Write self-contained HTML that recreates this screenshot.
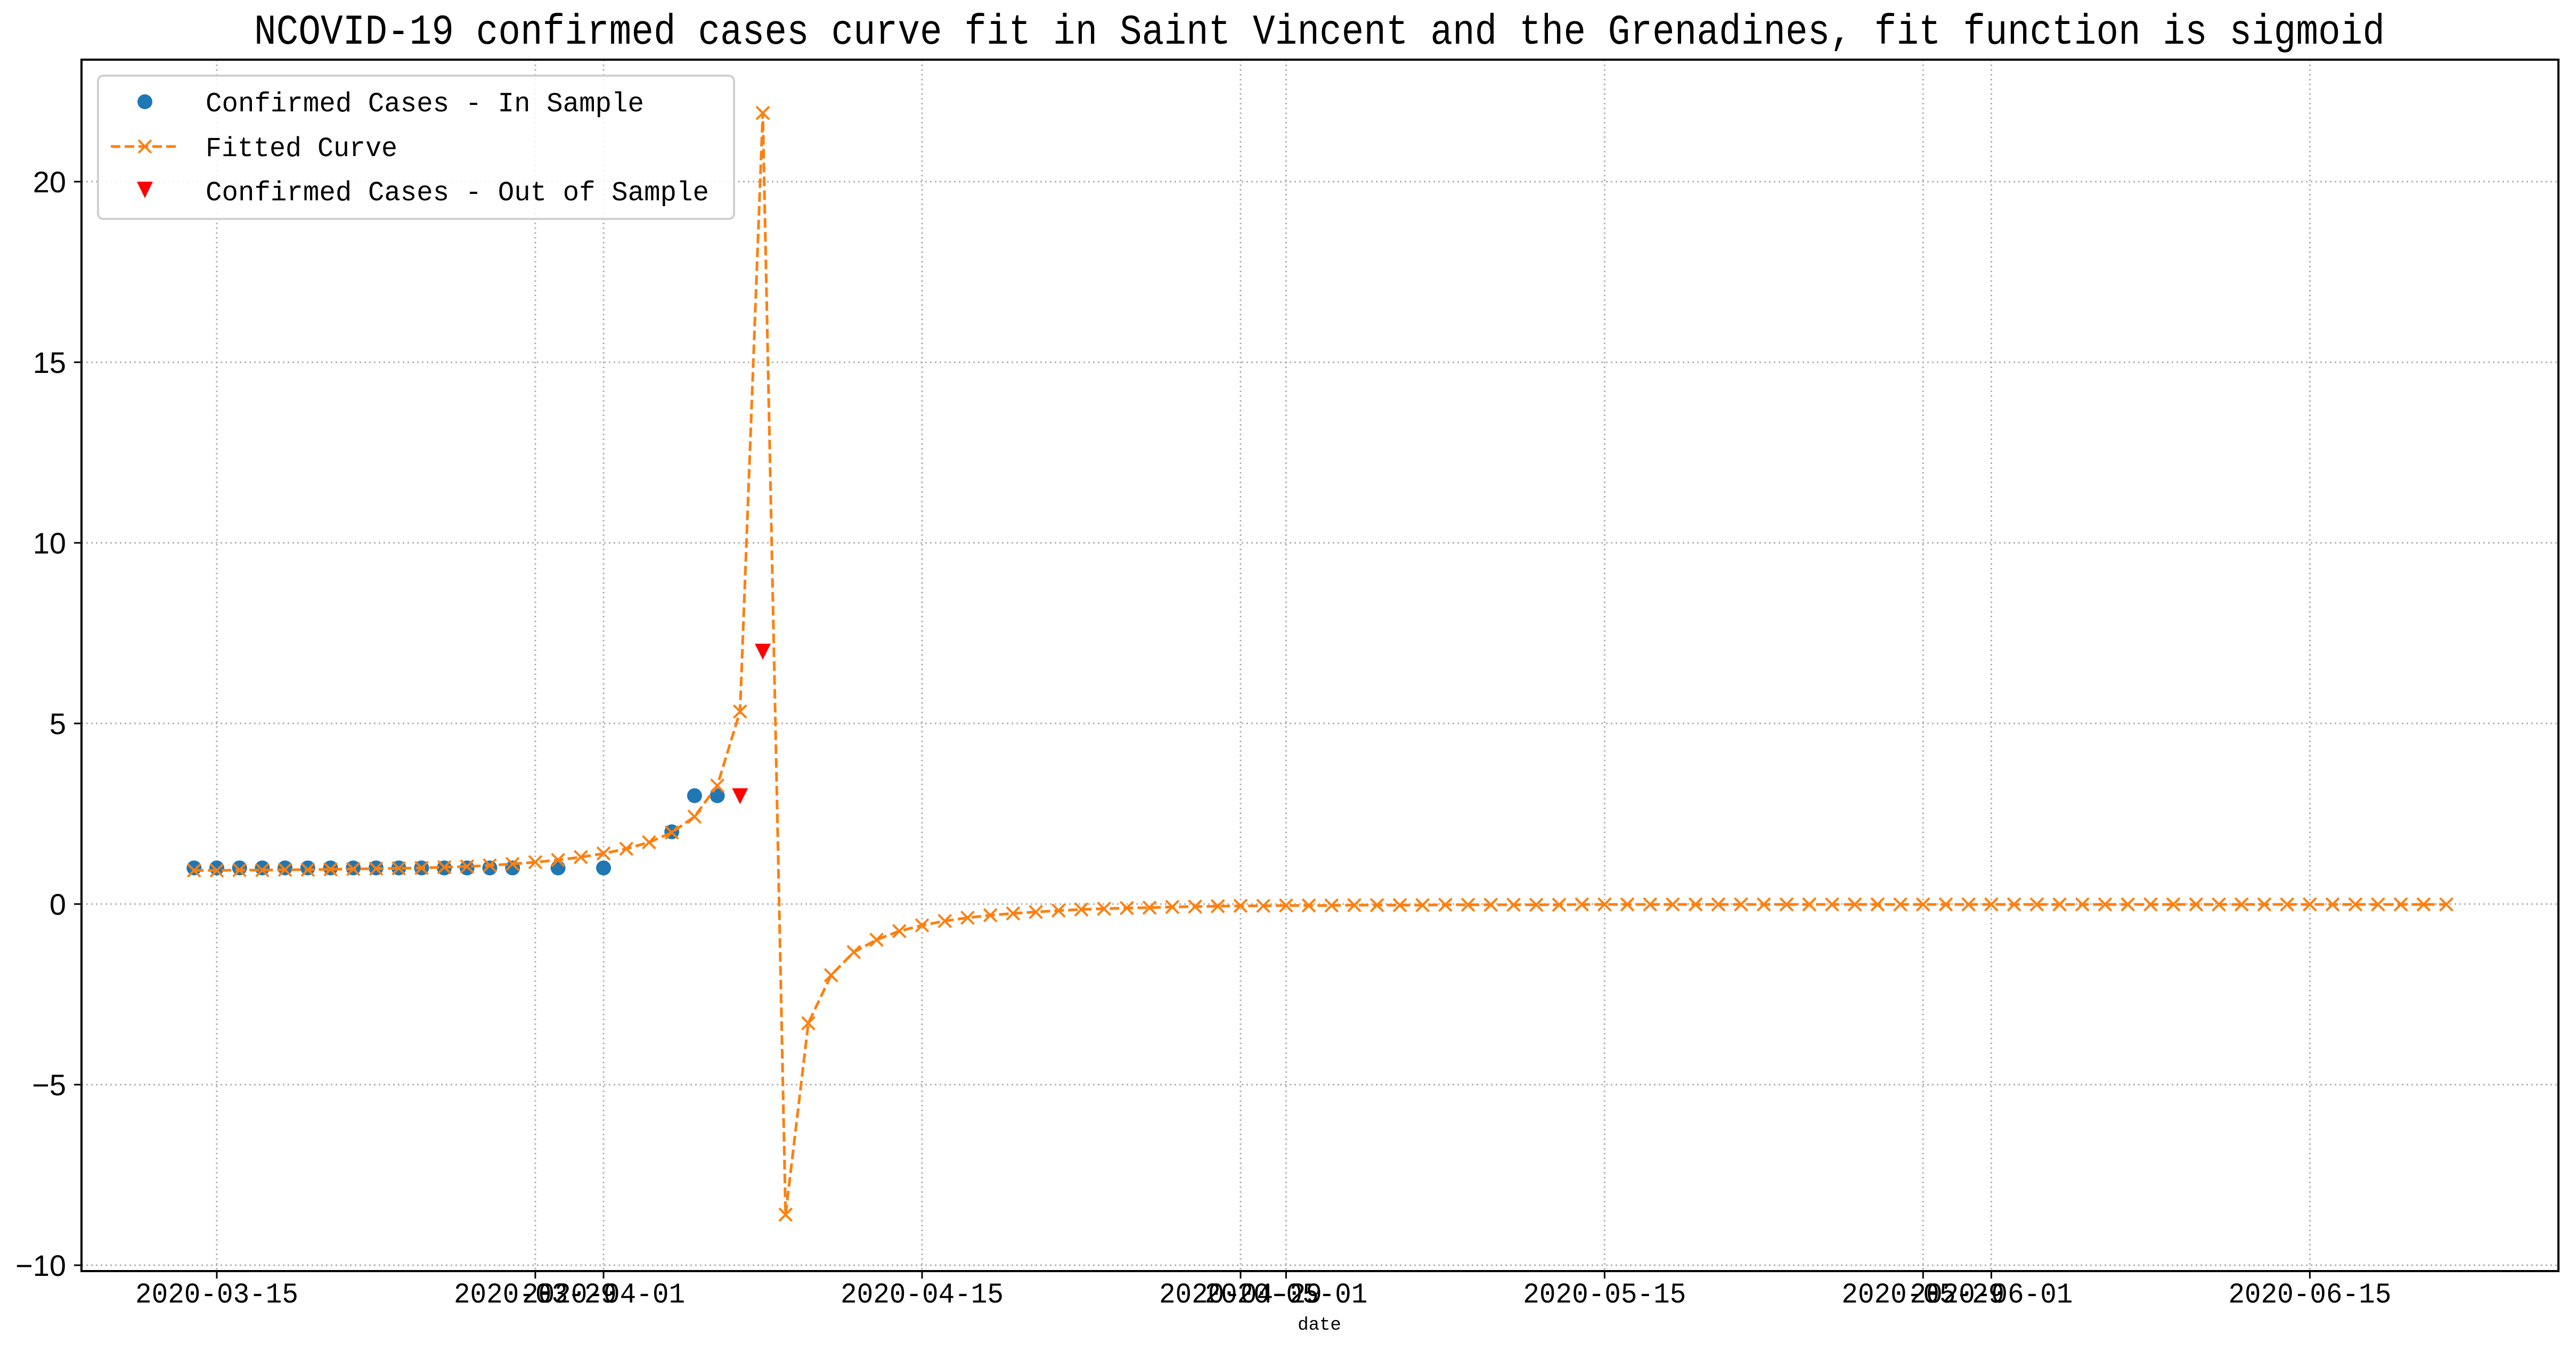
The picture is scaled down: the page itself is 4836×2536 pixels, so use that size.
<!DOCTYPE html>
<html><head><meta charset="utf-8"><style>
html,body{margin:0;padding:0;background:#fff}
svg{display:block}
text{font-family:"Liberation Mono","Noto Sans CJK SC",monospace;fill:#000}
</style></head><body>
<svg id="chart" width="4836" height="2536" viewBox="0 0 4836 2536" xmlns="http://www.w3.org/2000/svg">
<rect x="0" y="0" width="4836" height="2536" fill="#fff"/>
<text x="2477" y="82" font-size="80" text-anchor="middle" textLength="4000" lengthAdjust="spacingAndGlyphs">NCOVID-19 confirmed cases curve fit in Saint Vincent and the Grenadines, fit function is sigmoid</text>
<g id="grid"></g>
<g id="series"></g>
<rect x="153" y="112" width="4650" height="2274" fill="none" stroke="#000" stroke-width="4"/>
<g id="axes"></g>
<text x="2477" y="2496" font-size="34" text-anchor="middle">date</text>
<g>
<rect x="184" y="142" width="1194" height="269" rx="10" fill="#fff" fill-opacity="0.85" stroke="#d0d0d0" stroke-width="4"/>
<g>
<circle cx="272" cy="191" r="14" fill="#1f77b4"/>
<text x="386" y="209" font-size="52" textLength="823" lengthAdjust="spacingAndGlyphs">Confirmed Cases - In Sample</text>
</g>
<g>
<line x1="208" y1="275" x2="336" y2="275" stroke="#ff7f0e" stroke-width="5" stroke-dasharray="18,8"/>
<path d="M260 263 L284 287 M260 287 L284 263" stroke="#ff7f0e" stroke-width="4"/>
<text x="386" y="293" font-size="52" textLength="360" lengthAdjust="spacingAndGlyphs">Fitted Curve</text>
</g>
<g>
<path d="M257 341 L287 341 L272 372 Z" fill="#ff0000"/>
<text x="386" y="376" font-size="52" textLength="945" lengthAdjust="spacingAndGlyphs">Confirmed Cases - Out of Sample</text>
</g>
</g>
</svg>
<script>
// day offsets relative to 2020-03-15
const inSampleDays = [-1,0,1,2,3,4,5,6,7,8,9,10,11,12,13,15,17,20,21,22];
const inSampleValues = [1,1,1,1,1,1,1,1,1,1,1,1,1,1,1,1,1,2,3,3];
const outSampleDays = [23,24];
const outSampleValues = [3,7];
const fitStartDay = -1;
const fitValues = [0.93,0.93,0.94,0.94,0.95,0.95,0.96,0.97,0.98,0.99,1.0,1.02,1.04,1.07,1.11,1.16,1.22,1.30,1.40,1.53,1.71,1.98,2.42,3.28,5.33,21.9,-8.6,-3.3,-1.97,-1.33,-0.99,-0.75,-0.59,-0.47,-0.38,-0.31,-0.26,-0.22,-0.18,-0.15,-0.13,-0.11,-0.10,-0.08,-0.07,-0.06,-0.05,-0.05,-0.04,-0.04,-0.04,-0.03,-0.03,-0.03,-0.03,-0.02,-0.02,-0.02,-0.02,-0.02,-0.02,-0.01,-0.01,-0.01,-0.01,-0.01,-0.01,-0.01,-0.01,-0.01,-0.01,-0.01,-0.01,-0.01,-0.01,-0.01,-0.01,-0.01,-0.01,-0.01,-0.01,-0.01,-0.01,-0.01,-0.01,-0.01,-0.01,-0.01,-0.01,-0.01,-0.01,-0.01,-0.01,-0.01,-0.01,-0.01,-0.01,-0.01,-0.01,-0.01];
const xTickDays = [0,14,17,31,45,47,61,75,78,92];
const xTickLabels = ["2020-03-15","2020-03-29","2020-04-01","2020-04-15","2020-04-29","2020-05-01","2020-05-15","2020-05-29","2020-06-01","2020-06-15"];
const yTickValues = [-10,-5,0,5,10,15,20];
const yTickLabels = ["\u221210","\u22125","0","5","10","15","20"];

const NS = "http://www.w3.org/2000/svg";
const X0 = 407, PX_PER_DAY = 42.71, Y0 = 1697, PX_PER_UNIT = 67.8;
const PL = 153, PR = 4803, PT = 112, PB = 2386;
function xs(d){ return X0 + d * PX_PER_DAY; }
function ys(v){ return Y0 - v * PX_PER_UNIT; }
function mk(tag, attrs, parent){
  const e = document.createElementNS(NS, tag);
  for (const k in attrs) e.setAttribute(k, attrs[k]);
  parent.appendChild(e);
  return e;
}
const grid = document.getElementById('grid');
const axes = document.getElementById('axes');
const series = document.getElementById('series');

xTickDays.forEach((d, i) => {
  const x = xs(d);
  const g = mk('line', {x1:x, y1:PT, x2:x, y2:PB, stroke:'#b0b0b0', 'stroke-width':3, 'stroke-dasharray':'3,6'}, grid);
  
  
  const t = mk('line', {x1:x, y1:PB, x2:x, y2:PB+14, stroke:'#000', 'stroke-width':3}, axes);
  
  
  const lb = mk('text', {x:x, y:2445, 'font-size':54, 'text-anchor':'middle', textLength:306, lengthAdjust:'spacingAndGlyphs'}, axes);
  lb.textContent = xTickLabels[i];
  
  
});
yTickValues.forEach((v, i) => {
  const y = ys(v);
  const g = mk('line', {x1:PL, y1:y, x2:PR, y2:y, stroke:'#b0b0b0', 'stroke-width':3, 'stroke-dasharray':'3,6'}, grid);
  
  
  const t = mk('line', {x1:PL-14, y1:y, x2:PL, y2:y, stroke:'#000', 'stroke-width':3}, axes);
  
  
  const lb = mk('text', {x:124, y:y+20, 'font-size':56, 'text-anchor':'end', style:'font-family:"Liberation Sans",sans-serif'}, axes);
  lb.textContent = yTickLabels[i];
  
  
});

// in-sample dots
inSampleDays.forEach((d, i) => {
  const c = mk('circle', {cx:xs(d), cy:ys(inSampleValues[i]), r:14, fill:'#1f77b4'}, series);
  
  
});
// fitted curve
const pts = fitValues.map((v, i) => xs(fitStartDay + i).toFixed(1) + ',' + ys(v).toFixed(1)).join(' ');
const line = mk('polyline', {points:pts, fill:'none', stroke:'#ff7f0e', 'stroke-width':5, 'stroke-dasharray':'18,8'}, series);


fitValues.forEach((v, i) => {
  const x = xs(fitStartDay + i), y = ys(v), h = 12;
  const p = mk('path', {d:`M${x-h} ${y-h} L${x+h} ${y+h} M${x-h} ${y+h} L${x+h} ${y-h}`, stroke:'#ff7f0e', 'stroke-width':4, fill:'none'}, series);
  
  
});
// out-of-sample triangles
outSampleDays.forEach((d, i) => {
  const x = xs(d), y = ys(outSampleValues[i]);
  const p = mk('path', {d:`M${x-15} ${y-14} L${x+15} ${y-14} L${x} ${y+16} Z`, fill:'#ff0000'}, series);
  
  
});
</script>
</body></html>
